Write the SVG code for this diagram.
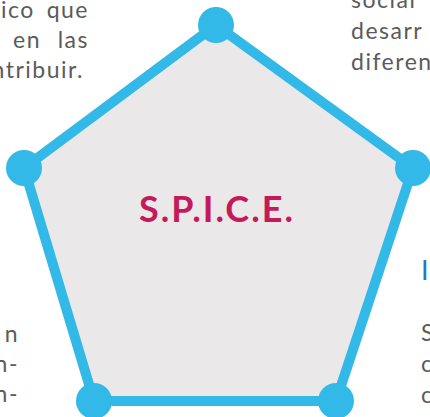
<svg xmlns="http://www.w3.org/2000/svg" width="430" height="417" viewBox="0 0 430 417">
  <style>
    .body { font-family: "Lato", "Liberation Sans", sans-serif; font-size: 23px; fill: #5b5b5b; letter-spacing: 1.5px; }
    .head { font-family: "Lato", "Liberation Sans", sans-serif; font-size: 27px; fill: #1f7bc1; }
    .title { font-family: "Lato", "Liberation Sans", sans-serif; font-size: 36px; font-weight: bold; fill: #c51a5a; letter-spacing: 2px; }
    .edge { fill: #ebe8ea; stroke: #33b9e8; stroke-width: 10; stroke-linejoin: round; }
    .vertex { fill: #33b9e8; }
  </style>
  <rect width="430" height="417" fill="#ffffff"/>

  <g id="text-top-left">
    <text class="body" x="1" y="18">ico</text>
    <text class="body" x="89" y="18" text-anchor="end">que</text>
    <text class="body" x="13" y="48">en</text>
    <text class="body" x="89" y="48" text-anchor="end">las</text>
    <text class="body" x="84" y="78" text-anchor="end">ntribuir.</text>
  </g>
  <g id="text-top-right">
    <text class="body" x="351" y="8">social</text>
    <text class="body" x="351" y="39">desarr</text>
    <text class="body" x="351" y="70">diferen</text>
  </g>
  <g id="text-bottom-left">
    <text class="body" x="19" y="342" text-anchor="end">n</text>
    <text class="body" x="19" y="372" text-anchor="end">n-</text>
    <text class="body" x="19" y="402" text-anchor="end">n-</text>
  </g>
  <g id="text-bottom-right">
    <text class="head" x="421" y="280">I</text>
    <text class="body" x="421" y="341">S</text>
    <text class="body" x="421" y="372">c</text>
    <text class="body" x="421" y="403">c</text>
  </g>

  <g id="connectors">
    <polygon class="edge" points="216,25 413,168 336,401 94,401 24,168"/>
  </g>

  <g id="node-top"><circle class="vertex" cx="216" cy="25" r="18"/></g>
  <g id="node-right"><circle class="vertex" cx="413" cy="168" r="18"/></g>
  <g id="node-bottom-right"><circle class="vertex" cx="336" cy="401" r="18"/></g>
  <g id="node-bottom-left"><circle class="vertex" cx="94" cy="401" r="18"/></g>
  <g id="node-left"><circle class="vertex" cx="24" cy="168" r="18"/></g>

  <g id="node-center">
    <text class="title" x="217" y="222" text-anchor="middle">S.P.I.C.E.</text>
  </g>
</svg>
